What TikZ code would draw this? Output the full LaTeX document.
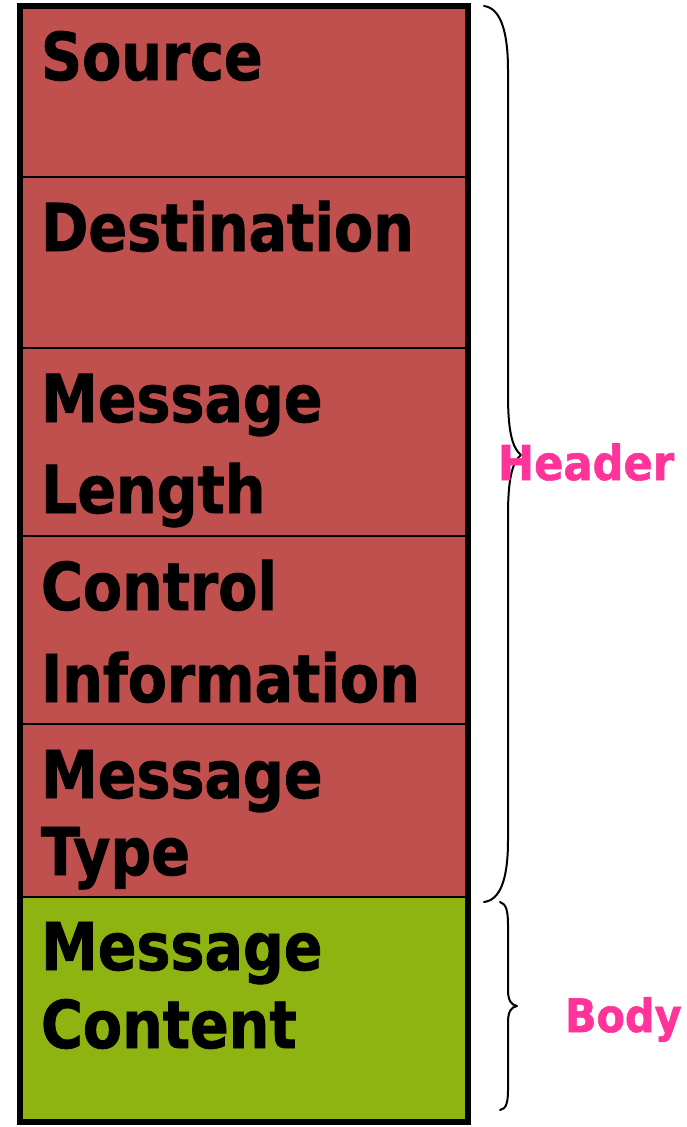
\documentclass[tikz,border=0pt]{standalone}
\usepackage{fontspec}
\setmainfont{DejaVu Sans}[FakeStretch=0.9]
\newfontfamily\fieldfont{DejaVu Sans}[FakeStretch=0.865,BoldFeatures={FakeBold=1.2}]
\newfontfamily\tagfont{DejaVu Sans}[FakeStretch=0.9,BoldFeatures={FakeBold=1.2}]
\definecolor{hdrred}{RGB}{192,80,77}
\definecolor{bodygreen}{RGB}{143,180,17}
\definecolor{tagpink}{RGB}{255,51,153}
\begin{document}
\begin{tikzpicture}[x=1pt,y=-1pt,
  field/.style={draw=black,line width=2.5pt,inner sep=0pt,outer sep=0pt,
    anchor=north west,minimum width=448pt},
  fieldtext/.style={anchor=base west,inner sep=0pt,outer sep=0pt,
    font=\fieldfont\fontsize{66}{66}\selectfont\bfseries},
  bracepath/.style={draw=black,line width=2pt,line cap=round,line join=round},
  tagtext/.style={anchor=base west,inner sep=0pt,outer sep=0pt,text=tagpink}]
\useasboundingbox (0,0) rectangle (687,1127);

% header and body fields, top to bottom
\node[field,fill=hdrred,minimum height=171pt] (src)  at (20,6)   {};
\node[field,fill=hdrred,minimum height=171pt] (dst)  at (20,177) {};
\node[field,fill=hdrred,minimum height=188pt] (len)  at (20,348) {};
\node[field,fill=hdrred,minimum height=188pt] (ctl)  at (20,536) {};
\node[field,fill=hdrred,minimum height=173pt] (typ)  at (20,724) {};
\node[field,fill=bodygreen,minimum height=225pt] (cnt) at (20,897) {};

% heavy outer frame
\draw[line width=6pt] (src.north west) rectangle (cnt.south east);

% field names
\node[fieldtext] (tsrc)  at (41,80)   {Source};
\node[fieldtext] (tdst)  at (41,251)  {Destination};
\node[fieldtext] (tlen1) at (41,422)  {Message};
\node[fieldtext] (tlen2) at (41,513)  {Length};
\node[fieldtext] (tctl1) at (41,610)  {Control};
\node[fieldtext] (tctl2) at (41,702)  {Information};
\node[fieldtext] (ttyp1) at (41,798)  {Message};
\node[fieldtext] (ttyp2) at (41,875)  {Type};
\node[fieldtext] (tcnt1) at (41,970)  {Message};
\node[fieldtext] (tcnt2) at (41,1048) {Content};

% brace spanning the header fields
\coordinate (hb-top) at (484,6);
\coordinate (hb-tip) at (521,455);
\coordinate (hb-bot) at (484,902);
\path[bracepath] (hb-top) .. controls (500,8) and (508,30) .. (508,70)
  -- (508,395) .. controls (508,430) and (512,448) .. (hb-tip)
  .. controls (512,462) and (508,480) .. (508,515)
  -- (508,840) .. controls (508,880) and (500,900) .. (hb-bot);

% brace spanning the body field
\coordinate (bb-top) at (500,902);
\coordinate (bb-tip) at (517,1006);
\coordinate (bb-bot) at (500,1110);
\path[bracepath] (bb-top) .. controls (506,904) and (508,910) .. (508,925)
  -- (508,990) .. controls (508,1000) and (511,1005) .. (bb-tip)
  .. controls (511,1007) and (508,1012) .. (508,1022)
  -- (508,1090) .. controls (508,1103) and (506,1109) .. (bb-bot);

% labels
\node[tagtext,font=\tagfont\fontsize{48}{48}\selectfont\bfseries] (lhdr) at (498,480) {Header};
\node[tagtext,font=\tagfont\fontsize{46}{46}\selectfont\bfseries] (lbody) at (565,1032) {Body};
\end{tikzpicture}
\end{document}
